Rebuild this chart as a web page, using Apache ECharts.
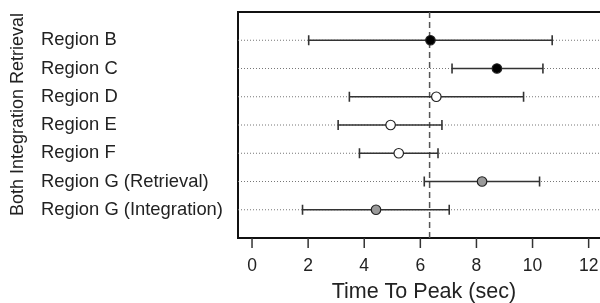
<!DOCTYPE html>
<html>
<head>
<meta charset="utf-8">
<script src="https://cdn.jsdelivr.net/npm/echarts@6/dist/echarts.min.js"></script>
<style>
  html, body { margin: 0; padding: 0; background: #fff; overflow: hidden; }
  /* plot box runs past the right edge in the source figure */
  #chart { width: 620px; height: 303px; }
</style>
</head>
<body>
<div id="chart"></div>
<script>
// values
var regions = ['Region B', 'Region C', 'Region D', 'Region E', 'Region F',
  'Region G (Retrieval)', 'Region G (Integration)'];
var peak = [6.36, 8.73, 6.57, 4.94, 5.23, 8.20, 4.42];
var lower = [2.02, 7.13, 3.47, 3.07, 3.83, 6.14, 1.80];
var upper = [10.70, 10.37, 9.68, 6.77, 6.63, 10.25, 7.03];
var group = ['Both', 'Both', 'Integration', 'Integration', 'Integration', 'Retrieval', 'Retrieval'];
var meanPeak = 6.33;
var xTicks = [0, 2, 4, 6, 8, 10, 12];

var font = "'Liberation Sans', Arial, Helvetica, sans-serif";
var fillOf = { Both: '#000', Integration: '#fff', Retrieval: '#9a9a9a' };

// first region sits on the top row
var n = regions.length;
function rowOf(i) { return n - i; }
var rowIdx = regions.map(function (r, i) { return rowOf(i); });

var xMin = -0.5, xMax = 13;
var yTop = n + 1;
// the grid reaches 10px below the box so the ticks fall inside it
var yMin = -10 / 28.25;

var barData = regions.map(function (r, i) { return [rowOf(i), lower[i], upper[i]]; });
var pointData = regions.map(function (r, i) {
  return { value: [peak[i], rowOf(i)], itemStyle: { color: fillOf[group[i]] } };
});

function renderBar(params, api) {
  var row = api.value(0);
  var a = api.coord([api.value(1), row]);
  var b = api.coord([api.value(2), row]);
  var left = api.coord([xMin, row])[0];
  var right = api.coord([xMax, row])[0];
  var cap = 5;
  var ink = { stroke: '#333', lineWidth: 1.6 };
  var children = [
    { type: 'line', shape: { x1: left, y1: a[1], x2: right, y2: a[1] },
      style: { stroke: '#777', lineWidth: 1, lineDash: [1, 2] } },
    { type: 'line', shape: { x1: a[0], y1: a[1], x2: b[0], y2: b[1] }, style: ink },
    { type: 'line', shape: { x1: a[0], y1: a[1] - cap, x2: a[0], y2: a[1] + cap }, style: ink },
    { type: 'line', shape: { x1: b[0], y1: b[1] - cap, x2: b[0], y2: b[1] + cap }, style: ink }
  ];
  if (params.dataIndex === 0) {
    // box, mean line and x ticks
    var tl = api.coord([xMin, yTop]);
    var br = api.coord([xMax, 0]);
    children.unshift({ type: 'rect',
      shape: { x: tl[0], y: tl[1], width: br[0] - tl[0], height: br[1] - tl[1] },
      style: { fill: null, stroke: '#111', lineWidth: 2 } });
    var m0 = api.coord([meanPeak, yTop]);
    var m1 = api.coord([meanPeak, 0]);
    children.push({ type: 'line', shape: { x1: m0[0], y1: m0[1], x2: m1[0], y2: m1[1] },
      style: { stroke: '#555', lineWidth: 1.5, lineDash: [6, 4] } });
    xTicks.forEach(function (t) {
      var p = api.coord([t, 0]);
      children.push({ type: 'line', shape: { x1: p[0], y1: p[1], x2: p[0], y2: p[1] + 10 },
        style: { stroke: '#333', lineWidth: 1.5 } });
    });
  }
  return { type: 'group', children: children };
}

var chart = echarts.init(document.getElementById('chart'));
chart.setOption({
  animation: false,
  grid: { left: 238, top: 12, right: 3.3, bottom: 55, outerBoundsMode: 'none', show: false },
  xAxis: {
    type: 'value', min: xMin, max: xMax,
    axisLine: { show: false, onZero: false },
    splitLine: { show: false },
    axisTick: { show: false },
    axisLabel: { customValues: xTicks, margin: 9, fontSize: 17.5, color: '#222', fontFamily: font },
    name: 'Time To Peak (sec)', nameLocation: 'middle', nameGap: 33,
    nameTextStyle: { fontSize: 21.5, color: '#222', fontFamily: font, padding: [0, 7, 0, 0] }
  },
  yAxis: {
    type: 'value', min: yMin, max: yTop,
    axisLine: { show: false, onZero: false }, axisTick: { show: false }, splitLine: { show: false },
    axisLabel: {
      customValues: rowIdx,
      align: 'left', margin: 197, fontSize: 18.4, color: '#222', fontFamily: font,
      formatter: function (v) { return regions[n - v] || ''; }
    }
  },
  graphic: [{
    type: 'text', x: 18, y: 114.5, rotation: Math.PI / 2,
    style: { text: 'Both Integration Retrieval', font: '18px ' + font, fill: '#222',
      align: 'center', verticalAlign: 'middle' }
  }],
  series: [
    {
      type: 'custom', renderItem: renderBar, data: barData, z: 2, clip: false,
      encode: { x: [1, 2], y: 0 }
    },
    {
      type: 'scatter', data: pointData, z: 3, symbolSize: 9.5,
      itemStyle: { borderColor: '#222', borderWidth: 1.2, opacity: 1 }
    }
  ]
});
</script>
</body>
</html>
